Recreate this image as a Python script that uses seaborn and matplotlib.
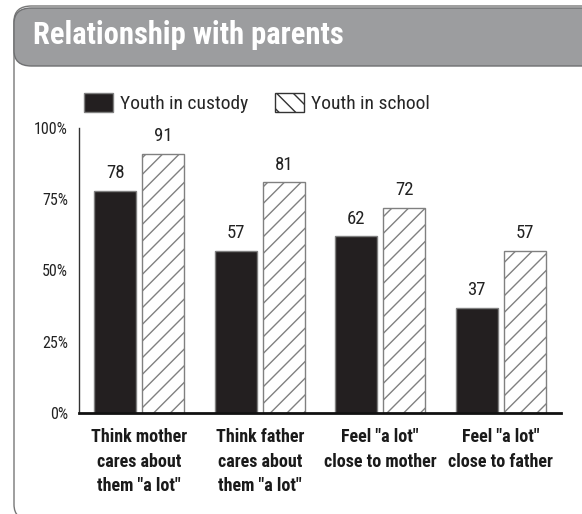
import matplotlib
matplotlib.use("Agg")
import matplotlib.pyplot as plt
from matplotlib.patches import FancyBboxPatch, Patch
import pandas as pd
import seaborn as sns

categories = ['Think mother\ncares about\nthem "a lot"', 'Think father\ncares about\nthem "a lot"',
              'Feel "a lot"\nclose to mother', 'Feel "a lot"\nclose to father']
custody = [78, 57, 62, 37]
school = [91, 81, 72, 57]
groups = ["Youth in custody", "Youth in school"]

df = pd.DataFrame({
    "cat": categories * 2,
    "pct": custody + school,
    "group": [groups[0]] * 4 + [groups[1]] * 4,
})

sns.set_style("white")
plt.rcParams["font.family"] = ["Roboto Condensed", "Liberation Sans Narrow", "Roboto", "DejaVu Sans"]
plt.rcParams["hatch.linewidth"] = 1.0
plt.rcParams["hatch.color"] = "#222222"

fig = plt.figure(figsize=(5.82, 5.14), dpi=100)

# card frame + gray header
W, H = 582, 514
card = FancyBboxPatch((14 / W, -6 / H), 1.2, 1.0, transform=fig.transFigure,
                      boxstyle="round,pad=0,rounding_size=0.03", facecolor="white",
                      edgecolor="#777777", linewidth=1.0, zorder=-2)
fig.patches.append(card)
header = FancyBboxPatch((14 / W, (H - 66) / H), 1.2, 58 / H, transform=fig.transFigure,
                        boxstyle="round,pad=0,rounding_size=0.03", facecolor="#9c9d9f",
                        edgecolor="#6f7072", linewidth=1.0, zorder=-1)
fig.patches.append(header)
fig.text(33 / W, (H - 44) / H, "Relationship with parents", color="white",
         fontsize=22, fontweight="bold", va="baseline", ha="left")

ax = fig.add_axes([79 / W, (H - 413) / H, 482 / W, 285 / H])
sns.barplot(data=df, x="cat", y="pct", hue="group", ax=ax, width=0.8, gap=0.13,
            palette=["#231f20", "white"], edgecolor="#808080", linewidth=1.0,
            saturation=1, legend=False)

for p in ax.containers[1]:
    p.set_hatch("//")
    p.set_edgecolor("#808080")
for c in ax.containers:
    ax.bar_label(c, labels=[str(int(v)) for v in c.datavalues], padding=6,
                 fontsize=13.5, color="#222222")

ax.set_xlim(-0.5, 3.5)
ax.set_ylim(0, 100)
ax.set_yticks([0, 25, 50, 75, 100])
ax.set_yticklabels(["0%", "25%", "50%", "75%", "100%"], fontsize=11.5, color="#222222")
ax.tick_params(axis="y", length=0, pad=8)
ax.tick_params(axis="x", length=0, pad=11)
for lab in ax.get_xticklabels():
    lab.set_fontweight("bold")
    lab.set_fontsize(13)
    lab.set_linespacing(1.45)
    lab.set_color("#1a1a1a")
ax.set_xlabel("")
ax.set_ylabel("")
for s in ["top", "right"]:
    ax.spines[s].set_visible(False)
ax.spines["left"].set_color("#333333")
ax.spines["left"].set_linewidth(1.0)
ax.spines["bottom"].set_color("#111111")
ax.spines["bottom"].set_linewidth(2.0)
ax.patch.set_alpha(0)

handles = [Patch(facecolor="#231f20", edgecolor="#808080"),
           Patch(facecolor="white", edgecolor="#333333", hatch="\\\\")]
fig.legend(handles, groups, loc="center left", bbox_to_anchor=(84 / W, (H - 103) / H),
           ncol=2, frameon=False, fontsize=14, handlelength=1.5, handleheight=1.1,
           columnspacing=1.35, handletextpad=0.36, borderpad=0, borderaxespad=0)

fig.savefig("out.png", dpi=100)
